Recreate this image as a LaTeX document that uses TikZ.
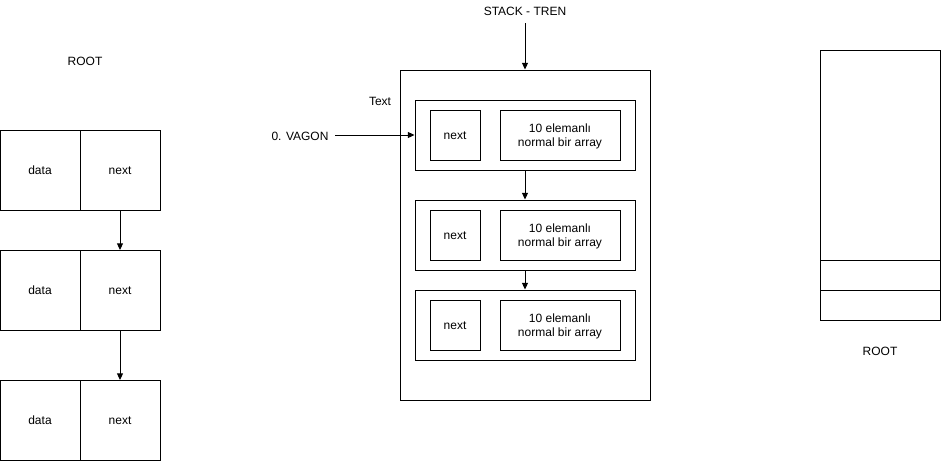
\documentclass[tikz,border=0pt]{standalone}
\usepackage{fontspec}
\setmainfont{Liberation Sans}
\usetikzlibrary{arrows.meta}
\begin{document}
\begin{tikzpicture}[x=0.75pt,y=-0.75pt,
  lbl/.style={font=\fontsize{9}{10.5}\selectfont,align=center,inner sep=0pt},
  one/.style={lbl,text height=6.5pt,text depth=1.9pt},
  txtshift/.style={yshift=-0.9pt},
  arr/.style={-{Triangle[length=5pt,width=4.5pt]},line width=0.75pt}]
\useasboundingbox (0,0) rectangle (941,461);
% left list
\foreach \n/\y in {1/130,2/250,3/380}{
  \draw[line width=0.75pt] (0,\y) rectangle (160,\y+80);
  \draw[line width=0.75pt] (80,\y) -- (80,\y+80);
  \node[one,txtshift] (d\n) at (40,\y+40) {data};
  \node[one,txtshift] (n\n) at (120,\y+40) {next};
  \coordinate (nt\n) at (120,\y);
  \coordinate (nb\n) at (120,\y+80);
}
\node[one,txtshift] (rootL) at (85,61) {ROOT};
\draw[arr] (nb1) -- (nt2);
\draw[arr] (nb2) -- (nt3);
% center
\node[draw,line width=0.75pt,minimum width=187.5pt,minimum height=247.5pt,inner sep=0pt] (outer) at (525,235) {};
\node[one,txtshift] (title) at (525,11) {STACK - TREN};
\draw[arr] (title.south) ++(0,-4pt) coordinate (ts) (ts) -- (outer.north);
\node[one,txtshift] (txt) at (380,101) {Text};
\foreach \n/\y in {1/135,2/235,3/325}{
  \node[draw,line width=0.75pt,minimum width=165pt,minimum height=52.5pt,inner sep=0pt] (w\n) at (525,\y) {};
  \node[draw,line width=0.75pt,minimum width=37.5pt,minimum height=37.5pt,inner sep=0pt] (wn\n) at (455,\y) {};
  \node[one,txtshift] (wnt\n) at (455,\y) {next};
  \node[draw,line width=0.75pt,minimum width=90pt,minimum height=37.5pt,inner sep=0pt] (wa\n) at (560,\y) {};
  \node[lbl,txtshift] (wat\n) at (560,\y) {10 elemanlı\\normal bir array};
}
\draw[arr] (w1.south) -- (w2.north);
\draw[arr] (w2.south) -- (w3.north);
\node[one,txtshift] (vagon) at (300,136) {0. VAGON};
\coordinate (vs) at (335,135);
\draw[arr] (vs) -- (w1.west);
% right
\draw[line width=0.75pt] (820,50) rectangle (940,320);
\draw[line width=0.75pt] (820,260) -- (940,260);
\draw[line width=0.75pt] (820,290) -- (940,290);
\node[one,txtshift] (rootR) at (880,351) {ROOT};
\end{tikzpicture}
\end{document}
